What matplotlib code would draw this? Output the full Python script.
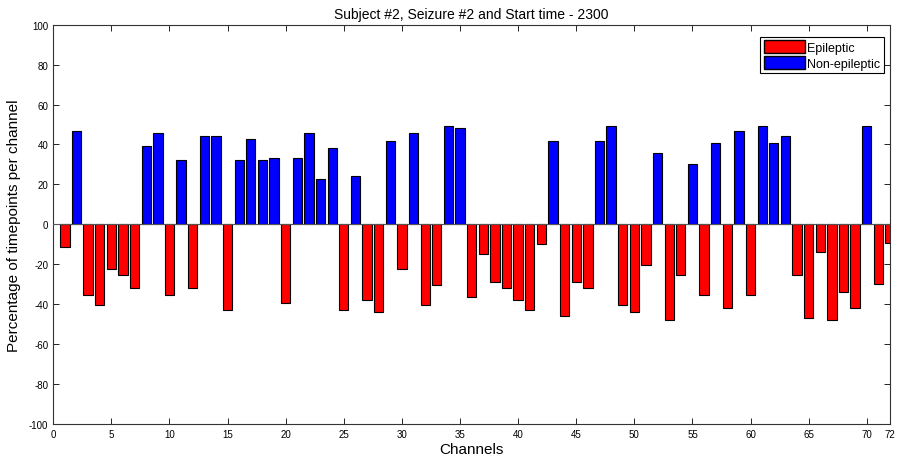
import matplotlib
matplotlib.use("Agg")
import matplotlib.pyplot as plt
from matplotlib.patches import Patch

plt.rcParams['font.family'] = ['Liberation Sans', 'DejaVu Sans']
plt.rcParams['axes.unicode_minus'] = False

# percentage of timepoints per channel (negative = epileptic, positive = non-epileptic)
channels = list(range(1, 73))
values = [-11.5, 47.0, -35.3, -40.5, -22.6, -25.3, -31.8, 39.3, 45.8, -35.3,
          32.0, -31.8, 44.2, 44.2, -42.8, 32.0, 43.0, 32.0, 33.0, -39.3,
          33.0, 45.8, 22.7, 38.2, -42.8, 24.0, -38.0, -44.0, 41.7, -22.6,
          45.8, -40.5, -30.2, 49.3, 48.2, -36.5, -15.0, -28.8, -31.8, -38.0,
          -42.8, -9.8, 41.7, -45.7, -28.8, -31.8, 41.7, 49.3, -40.5, -44.0,
          -20.2, 35.5, -48.0, -25.3, 30.2, -35.3, 40.7, -41.7, 47.0, -35.3,
          49.3, 40.7, 44.2, -25.3, -46.8, -13.8, -48.0, -34.0, -41.7, 49.3,
          -30.0, -9.5]
xticks = [0, 5, 10, 15, 20, 25, 30, 35, 40, 45, 50, 55, 60, 65, 70, 72]
yticks = list(range(-100, 101, 20))
series_names = ['Epileptic', 'Non-epileptic']

fig = plt.figure(figsize=(8.97, 4.60), dpi=100)
ax = fig.add_axes([0.0594, 0.0761, 0.9328, 0.8680])

colors = ['red' if v < 0 else 'blue' for v in values]
ax.bar(channels, values, width=0.8, color=colors, edgecolor='black', linewidth=0.8, zorder=2)
ax.axhline(0, color='#555555', linewidth=0.8, zorder=3)

ax.set_xlim(0, 72)
ax.set_ylim(-100, 100)
ax.set_xticks(xticks)
ax.set_yticks(yticks)
ax.tick_params(direction='in', top=True, right=True, labelsize=7, length=4, width=0.6)
for s in ax.spines.values():
    s.set_linewidth(0.8)
    s.set_color('#333333')

ax.set_title('Subject #2, Seizure #2 and Start time - 2300', fontsize=10, pad=5)
ax.set_xlabel('Channels', fontsize=11, labelpad=2)
ax.set_ylabel('Percentage of timepoints per channel', fontsize=11, labelpad=6)

handles = [Patch(facecolor='red', edgecolor='black', label=series_names[0]),
           Patch(facecolor='blue', edgecolor='black', label=series_names[1])]
leg = ax.legend(handles=handles, loc='upper right', fontsize=9, fancybox=False,
                edgecolor='black', framealpha=1, borderpad=0.3, handlelength=3.3,
                handleheight=1.2, handletextpad=0.2, labelspacing=0.15,
                borderaxespad=0, bbox_to_anchor=(0.993, 0.97))
leg.get_frame().set_linewidth(0.8)

fig.savefig('out.png', dpi=100)
